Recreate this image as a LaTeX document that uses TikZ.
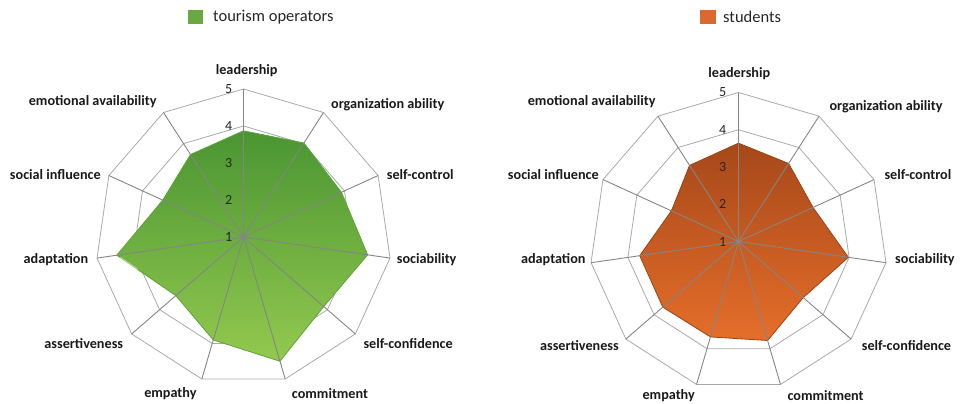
\documentclass[tikz,border=0pt]{standalone}
\usepackage{fontspec}
\setmainfont{Carlito}
\usetikzlibrary{calc}
\definecolor{ringc}{HTML}{A9A9A9}
\definecolor{spokec}{HTML}{858585}
\definecolor{gtop}{HTML}{4A9532}
\definecolor{gbot}{HTML}{93C94F}
\definecolor{gedge}{HTML}{5FA23B}
\definecolor{gleg}{HTML}{69A940}
\definecolor{otop}{HTML}{A6481A}
\definecolor{obot}{HTML}{E56E2A}
\definecolor{oedge}{HTML}{9A4418}
\definecolor{oleg}{HTML}{D9692F}
\tikzset{
  ring/.style={draw=ringc, line width=0.8pt},
  spoke/.style={draw=spokec, line width=0.9pt},
  lab/.style={font=\bfseries\fontsize{14.2}{16}\selectfont, inner sep=0pt, text=black!90},
  num/.style={font=\fontsize{14}{16}\selectfont, inner sep=0pt, anchor=east, text=black!85},
  legtext/.style={font=\fontsize{16.5}{18}\selectfont, inner sep=0pt, anchor=west, text=black!85},
}
\begin{document}
\begin{tikzpicture}[x=1pt,y=-1pt]
\useasboundingbox (0,0) rectangle (961,404);
% ---------- legend ----------
\fill[gleg] (188,10) rectangle (203,24);
\node[legtext] (legL) at (213,17) {tourism operators};
\fill[oleg] (700,10) rectangle (716,24);
\node[legtext] (legR) at (723,17) {students};
% ---------- grid coordinates ----------
\foreach \c/\cx/\cy/\R in {L/243.5/237/148, R/738.5/241.5/149}{
  \coordinate (\c c) at (\cx,\cy);
  \foreach \k in {1,...,4}{
    \foreach \i in {0,...,10}{
      \coordinate (\c g\k-\i) at ({\cx + \k/4*\R*sin(\i*360/11)},{\cy - \k/4*\R*cos(\i*360/11)});
    }
  }
}
% data
\foreach \v [count=\i from 0] in {3.87,4.02,3.91,4.39,3.87,4.5,3.9,3.42,4.46,3.4,3.65}{
  \coordinate (Ld\i) at ({243.5 + (\v-1)/4*148*sin(\i*360/11)},{237 - (\v-1)/4*148*cos(\i*360/11)});
}
\foreach \v [count=\i from 0] in {3.64,3.49,3.2,3.98,3.3,3.77,3.67,3.69,3.68,2.98,3.43}{
  \coordinate (Rd\i) at ({738.5 + (\v-1)/4*149*sin(\i*360/11)},{241.5 - (\v-1)/4*149*cos(\i*360/11)});
}
% ---------- rings ----------
\foreach \c in {L,R}{
  \foreach \k in {1,...,4}{
    \draw[ring] (\c g\k-0) \foreach \i in {1,...,10}{ -- (\c g\k-\i)} -- cycle;
  }
}
% ---------- filled areas ----------
\shade[top color=gtop, bottom color=gbot] (Ld0) \foreach \i in {1,...,10}{ -- (Ld\i)} -- cycle;
\draw[gedge, line width=0.8pt, line join=round] (Ld0) \foreach \i in {1,...,10}{ -- (Ld\i)} -- cycle;
\draw[white!70!gbot, line width=1.6pt, opacity=0.6] ($(Ld8)!0.06!(Ld7)$) -- ($(Ld8)!0.35!(Ld7)$);
\shade[top color=otop, bottom color=obot] (Rd0) \foreach \i in {1,...,10}{ -- (Rd\i)} -- cycle;
\draw[oedge, line width=0.8pt, line join=round] (Rd0) \foreach \i in {1,...,10}{ -- (Rd\i)} -- cycle;
% ---------- spokes ----------
\foreach \c in {L,R}{
  \foreach \i in {0,...,10}{
    \draw[spoke] (\c c) -- (\c g4-\i);
  }
  \fill[spokec] (\c c) circle (1.8);
}
% ---------- scale numbers ----------
\foreach \k in {1,...,5}{
  \node[num] (Ln\k) at ({243.5-11},{237-(\k-1)/4*148}) {\k};
  \node[num] (Rn\k) at ({738.5-12},{241.5-(\k-1)/4*149}) {\k};
}
% ---------- labels left ----------
\node[lab] (L0) at (246.7,70.7) {leadership};
\node[lab, anchor=west] (L1) at (331,104.3) {organization ability};
\node[lab, anchor=west] (L2) at (386.7,174.3) {self-control};
\node[lab, anchor=west] (L3) at (396.7,259.3) {sociability};
\node[lab, anchor=west] (L4) at (363.3,343.3) {self-confidence};
\node[lab, anchor=west] (L5) at (291.7,393.3) {commitment};
\node[lab, anchor=east] (L6) at (196.7,393.3) {empathy};
\node[lab, anchor=east] (L7) at (123.3,343.3) {assertiveness};
\node[lab, anchor=east] (L8) at (88.3,259.3) {adaptation};
\node[lab, anchor=east] (L9) at (101,174.3) {social influence};
\node[lab, anchor=east] (L10) at (156.7,101.7) {emotional availability};
% ---------- labels right ----------
\node[lab] (R0) at (739.3,73.3) {leadership};
\node[lab, anchor=west] (R1) at (829.3,106.7) {organization ability};
\node[lab, anchor=west] (R2) at (884.3,174.3) {self-control};
\node[lab, anchor=west] (R3) at (895,259.3) {sociability};
\node[lab, anchor=west] (R4) at (861.7,345.7) {self-confidence};
\node[lab, anchor=west] (R5) at (787.3,396) {commitment};
\node[lab, anchor=east] (R6) at (695,396) {empathy};
\node[lab, anchor=east] (R7) at (619,345.7) {assertiveness};
\node[lab, anchor=east] (R8) at (585.7,259.3) {adaptation};
\node[lab, anchor=east] (R9) at (599,174.3) {social influence};
\node[lab, anchor=east] (R10) at (655.7,101.7) {emotional availability};
\end{tikzpicture}
\end{document}
